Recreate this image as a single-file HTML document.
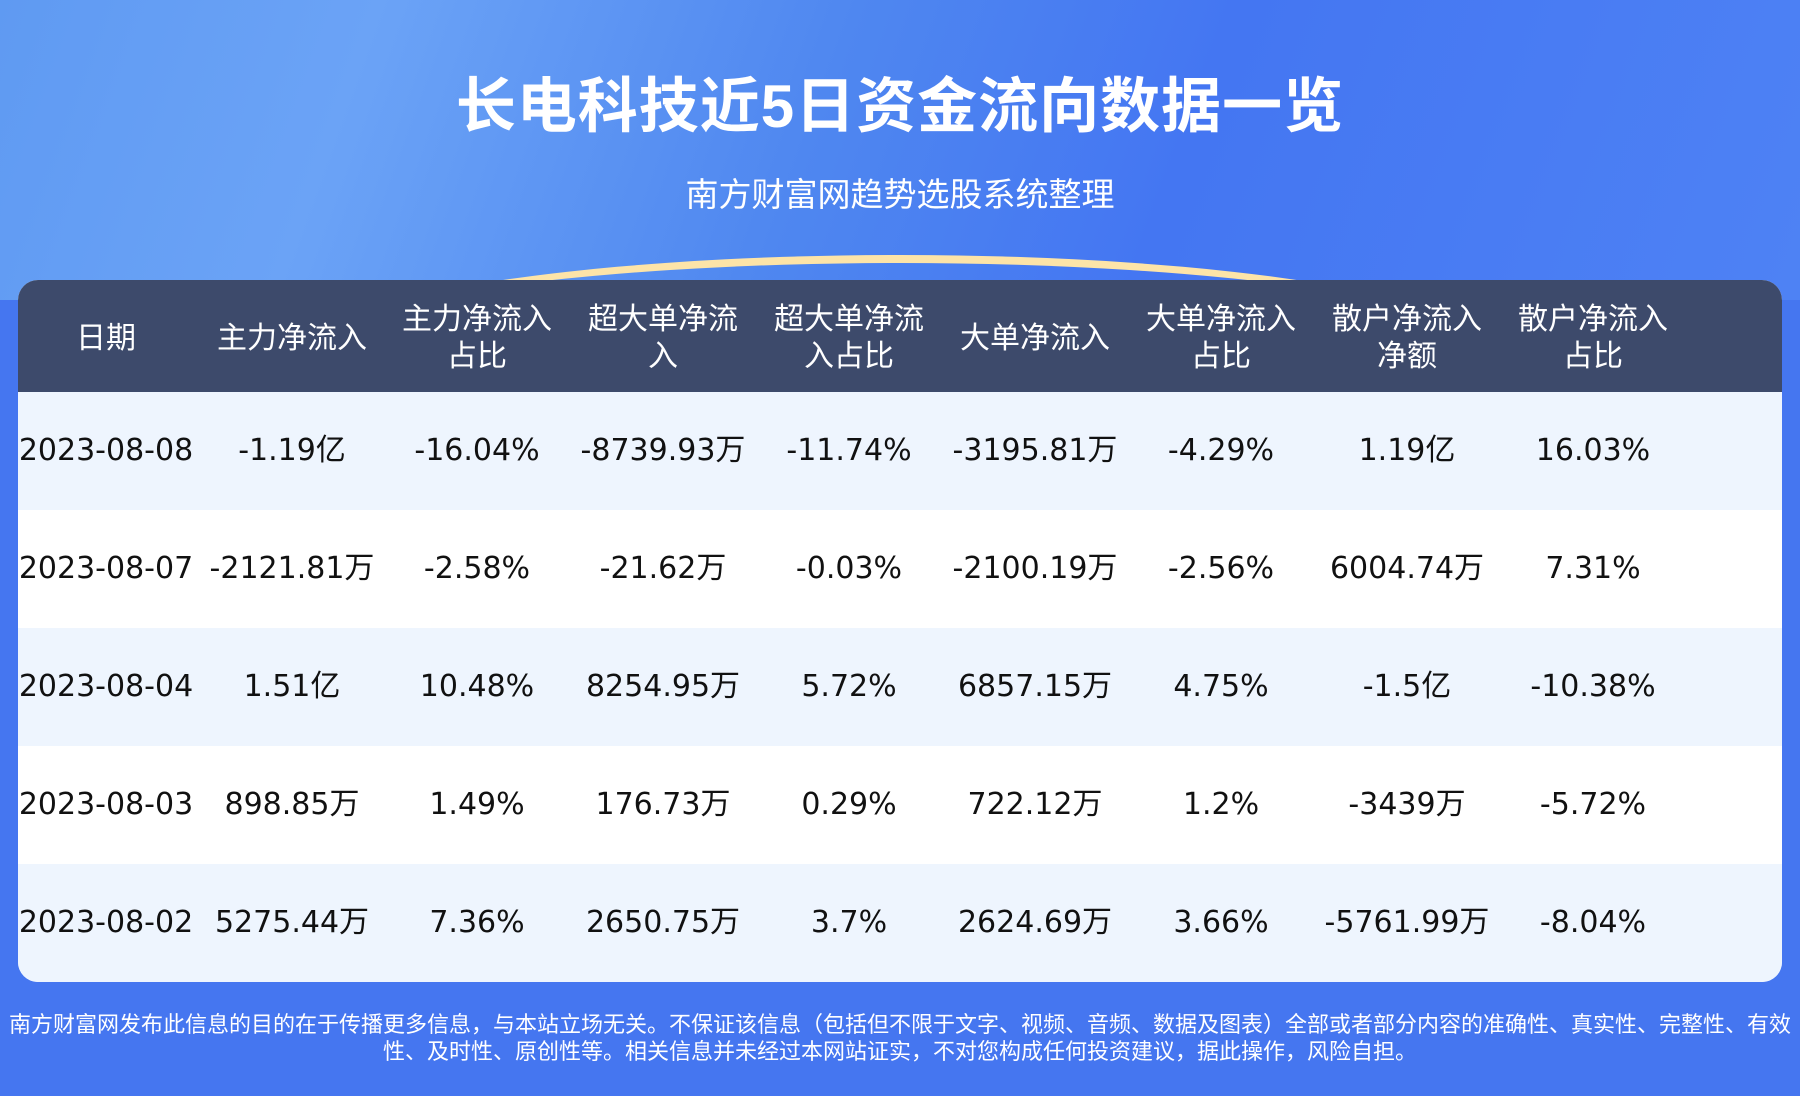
<!DOCTYPE html>
<html><head><meta charset="utf-8"><style>
body{margin:0;width:1800px;height:1096px;overflow:hidden;font-family:"Liberation Sans","Noto Sans CJK SC",sans-serif;background:#4576f0;position:relative}
.top{position:absolute;left:0;top:0;width:1800px;height:300px;background:linear-gradient(110deg,#5f9af2 0%,#6ba3f6 20%,#4f87f0 45%,#4476f2 65%,#4e82f4 100%)}
.arc{position:absolute;left:300px;top:255px;width:1200px;height:200px;border-radius:50%;border-top:8px solid #fde4a8;box-sizing:border-box}
h1{position:absolute;top:58px;left:0;width:1800px;text-align:center;margin:0;color:#fff;font-size:60px;font-weight:bold;letter-spacing:1px}
.sub{position:absolute;top:168px;left:0;width:1800px;text-align:center;color:#fff;font-size:33px}
.tbl{position:absolute;left:18px;top:280px;width:1764px;height:702px;border-radius:20px;overflow:hidden;background:#fff}
.hd{height:112px;background:#3d4a6b;color:#fff;font-size:30px;line-height:37px;font-family:"Noto Sans CJK SC",sans-serif}
.row{height:118px;font-size:30px;color:#111;line-height:118px;font-family:"DejaVu Sans","Noto Sans CJK SC",sans-serif}
.c{position:absolute;width:186px;text-align:center;white-space:nowrap}
.hd .c{top:18px;height:74px;display:flex;align-items:center;justify-content:center}
.foot{position:absolute;top:1010px;left:0;width:1800px;text-align:center;color:#fff;font-size:22px;line-height:27px;font-family:"Noto Sans CJK SC",sans-serif}
</style></head><body>
<div class="top"></div><div class="arc"></div>
<h1>长电科技近5日资金流向数据一览</h1>
<div class="sub">南方财富网趋势选股系统整理</div>
<div class="tbl">
<div class="hd" style="position:relative">
<div class="c" style="left:-5px">日期</div><div class="c" style="left:181px">主力净流入</div><div class="c" style="left:366px">主力净流入<br>占比</div><div class="c" style="left:552px">超大单净流<br>入</div><div class="c" style="left:738px">超大单净流<br>入占比</div><div class="c" style="left:924px">大单净流入</div><div class="c" style="left:1110px">大单净流入<br>占比</div><div class="c" style="left:1296px">散户净流入<br>净额</div><div class="c" style="left:1482px">散户净流入<br>占比</div>
</div>
<div>
<div class="row" style="position:relative;background:#eef5fe"><div class="c" style="left:-5px">2023-08-08</div><div class="c" style="left:181px">-1.19亿</div><div class="c" style="left:366px">-16.04%</div><div class="c" style="left:552px">-8739.93万</div><div class="c" style="left:738px">-11.74%</div><div class="c" style="left:924px">-3195.81万</div><div class="c" style="left:1110px">-4.29%</div><div class="c" style="left:1296px">1.19亿</div><div class="c" style="left:1482px">16.03%</div></div>
<div class="row" style="position:relative;background:#fff"><div class="c" style="left:-5px">2023-08-07</div><div class="c" style="left:181px">-2121.81万</div><div class="c" style="left:366px">-2.58%</div><div class="c" style="left:552px">-21.62万</div><div class="c" style="left:738px">-0.03%</div><div class="c" style="left:924px">-2100.19万</div><div class="c" style="left:1110px">-2.56%</div><div class="c" style="left:1296px">6004.74万</div><div class="c" style="left:1482px">7.31%</div></div>
<div class="row" style="position:relative;background:#eef5fe"><div class="c" style="left:-5px">2023-08-04</div><div class="c" style="left:181px">1.51亿</div><div class="c" style="left:366px">10.48%</div><div class="c" style="left:552px">8254.95万</div><div class="c" style="left:738px">5.72%</div><div class="c" style="left:924px">6857.15万</div><div class="c" style="left:1110px">4.75%</div><div class="c" style="left:1296px">-1.5亿</div><div class="c" style="left:1482px">-10.38%</div></div>
<div class="row" style="position:relative;background:#fff"><div class="c" style="left:-5px">2023-08-03</div><div class="c" style="left:181px">898.85万</div><div class="c" style="left:366px">1.49%</div><div class="c" style="left:552px">176.73万</div><div class="c" style="left:738px">0.29%</div><div class="c" style="left:924px">722.12万</div><div class="c" style="left:1110px">1.2%</div><div class="c" style="left:1296px">-3439万</div><div class="c" style="left:1482px">-5.72%</div></div>
<div class="row" style="position:relative;background:#eef5fe"><div class="c" style="left:-5px">2023-08-02</div><div class="c" style="left:181px">5275.44万</div><div class="c" style="left:366px">7.36%</div><div class="c" style="left:552px">2650.75万</div><div class="c" style="left:738px">3.7%</div><div class="c" style="left:924px">2624.69万</div><div class="c" style="left:1110px">3.66%</div><div class="c" style="left:1296px">-5761.99万</div><div class="c" style="left:1482px">-8.04%</div></div>
</div></div>
<div class="foot">南方财富网发布此信息的目的在于传播更多信息，与本站立场无关。不保证该信息（包括但不限于文字、视频、音频、数据及图表）全部或者部分内容的准确性、真实性、完整性、有效<br>性、及时性、原创性等。相关信息并未经过本网站证实，不对您构成任何投资建议，据此操作，风险自担。</div>
</body></html>
